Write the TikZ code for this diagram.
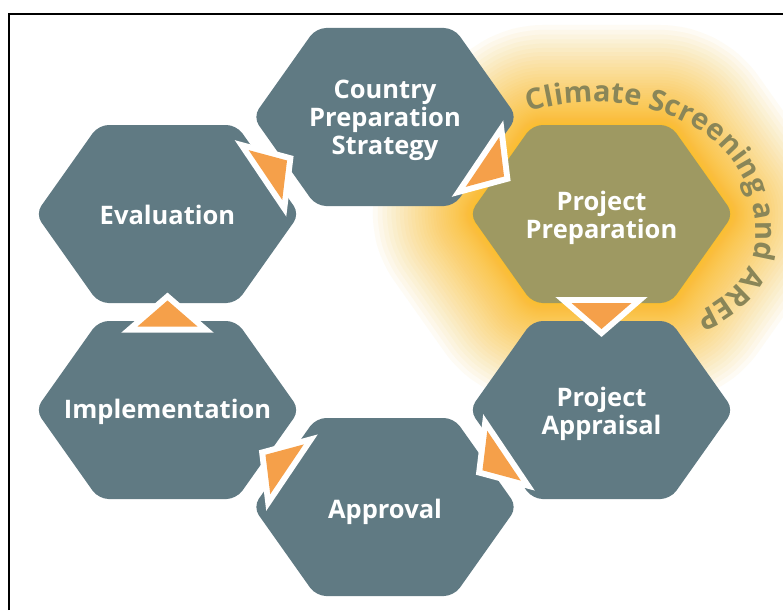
\documentclass[tikz,border=0pt]{standalone}
\usepackage{fontspec}
\setmainfont{Open Sans}
\usetikzlibrary{calc,decorations.text}

\definecolor{hexblue}{RGB}{96,122,131}
\definecolor{hexolive}{RGB}{158,153,98}
\definecolor{glowyellow}{RGB}{250,190,40}
\definecolor{arroworange}{RGB}{245,160,74}
\definecolor{arctext}{RGB}{138,134,88}

% flattened hexagon around a named centre
\newcommand\hexat[2]{%
  \path[#2, rounded corners=10pt, shift={(#1)}]
    (-132,0) -- (-69,-89) -- (69,-89) -- (132,0) -- (69,89) -- (-69,89) -- cycle;}

% white-edged orange triangle half way between two stages, pointing at angle #3
\newcommand\flowarrow[3]{%
  \begin{scope}[shift={($(#1.center)!0.5!(#2.center)$)}, rotate=#3]
    \filldraw[arrowedge] (13pt,0pt) -- (-13pt,30pt) -- (-13pt,-30pt) -- cycle;
    \fill[arrowfill] (13pt,0pt) -- (-13pt,30pt) -- (-13pt,-30pt) -- cycle;
  \end{scope}}

\tikzset{
  stagebox/.style={fill=hexblue},
  stagelabel/.style={text=white, align=center, inner sep=0pt,
    font=\bfseries\fontsize{25.5}{28}\selectfont},
  arrowedge/.style={draw=white, fill=white, line width=12pt, line join=miter},
  arrowfill/.style={fill=arroworange},
  glowring/.style={draw=glowyellow, draw opacity=0.05, line join=round},
}

\begin{document}
\begin{tikzpicture}[x=1pt,y=-1pt]
\useasboundingbox (0,0) rectangle (783,610);
\fill[white] (0,0) rectangle (783,610);

% stage centres
\coordinate (cStrat) at (385,117);
\coordinate (cEval)  at (167.5,214);
\coordinate (cPrep)  at (601.5,214);
\coordinate (cImpl)  at (167.5,410);
\coordinate (cApr)   at (601.5,410);
\coordinate (cAppr)  at (385,507);

% soft glow around the preparation stage: many thin, faint rings,
% packed closely near the hexagon and thinning out further away
\foreach \k in {1,...,60} {
  \hexat{cPrep}{glowring, line width={200*(\k/60)*(\k/60)*(\k/60)}}
}

% hexagons
\hexat{cStrat}{stagebox}
\hexat{cEval}{stagebox}
\hexat{cImpl}{stagebox}
\hexat{cApr}{stagebox}
\hexat{cAppr}{stagebox}
\hexat{cPrep}{fill=hexolive}

% stage names
\node[stagelabel] (strat) at (385,120.5) {Country\\Preparation\\Strategy};
\node[stagelabel] (eval)  at (167.5,215) {Evaluation};
\node[stagelabel] (prep)  at (601.5,218) {Project\\Preparation};
\node[stagelabel] (impl)  at (167.5,412) {Implementation};
\node[stagelabel] (apr)   at (601.5,414) {Project\\Appraisal};
\node[stagelabel] (appr)  at (385,512) {Approval};

% curved caption round the preparation stage
\coordinate (arcA) at (529,112);
\coordinate (arcB) at (746,184);
\coordinate (arcC) at (695,313);
\path[decorate, decoration={text along path, text align=fit to path,
  text={|\bfseries\fontsize{29}{29}\selectfont\color{arctext}|Climate Screening and AREP}}]
  (arcA) .. controls (602,88) and (712,106) .. (arcB)
         .. controls (770,246) and (750,289) .. (arcC);

% flow between the stages
\flowarrow{eval}{strat}{34}
\flowarrow{strat}{prep}{-34}
\flowarrow{prep}{apr}{-90}
\flowarrow{apr}{appr}{214}
\flowarrow{appr}{impl}{146}
\flowarrow{impl}{eval}{90}

% frame
\draw[line width=2pt] (9,610) -- (9,14) -- (783,14);
\end{tikzpicture}
\end{document}
